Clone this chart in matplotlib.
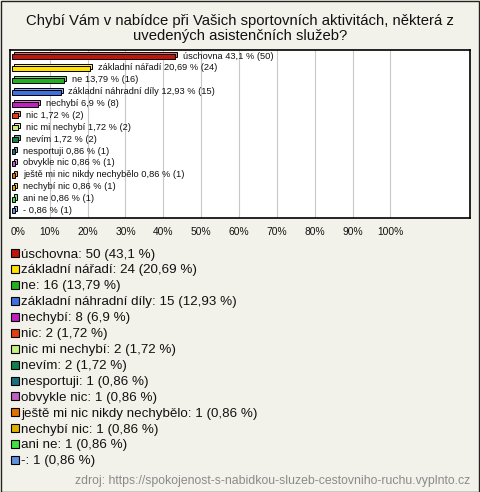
import matplotlib
matplotlib.use("Agg")
import matplotlib.pyplot as plt
from matplotlib.patches import Rectangle
import matplotlib.colors as mcolors

categories = ["úschovna", "základní nářadí", "ne", "základní náhradní díly", "nechybí",
              "nic", "nic mi nechybí", "nevím", "nesportuji", "obvykle nic",
              "ještě mi nic nikdy nechybělo", "nechybí nic", "ani ne", "-"]
counts = [50, 24, 16, 15, 8, 2, 2, 2, 1, 1, 1, 1, 1, 1]
percents = [43.1, 20.69, 13.79, 12.93, 6.9, 1.72, 1.72, 1.72, 0.86, 0.86, 0.86, 0.86, 0.86, 0.86]
pct_labels = ["43,1", "20,69", "13,79", "12,93", "6,9", "1,72", "1,72", "1,72",
              "0,86", "0,86", "0,86", "0,86", "0,86", "0,86"]
colors = ["#C0140C", "#FFE000", "#20B020", "#4070E0", "#C020C0", "#E04010", "#C8F080",
          "#108050", "#1A7080", "#C060C0", "#E07000", "#E0B000", "#40E040", "#6090E0"]
tick_values = [0, 10, 20, 30, 40, 50, 60, 70, 80, 90, 100]
tick_labels = ["0%", "10%", "20%", "30%", "40%", "50%", "60%", "70%", "80%", "90%", "100%"]

title = "Chybí Vám v nabídce při Vašich sportovních aktivitách, některá z\nuvedených asistenčních služeb?"
source = "zdroj: https://spokojenost-s-nabidkou-sluzeb-cestovniho-ruchu.vyplnto.cz"

plt.rcParams['font.family'] = ['Liberation Sans', 'DejaVu Sans']
BG = "#F3F2EA"
W, H = 480, 492
fig = plt.figure(figsize=(W / 100, H / 100), dpi=100, facecolor=BG)

# outer border
fig.patches.append(Rectangle((0.5 / W, 0.5 / H), 1 - 1.5 / W, 1 - 1.5 / H, transform=fig.transFigure,
                             fill=False, edgecolor="#222222", linewidth=1.0))

fig.text(0.5, 1 - 28.5 / H, title, ha="center", va="center", fontsize=10.7, color="#111111",
         linespacing=1.1)

ax = fig.add_axes([10 / W, 1 - 218 / H, 460 / W, 168 / H])
ax.set_facecolor("white")
ax.set_xlim(-0.5, 121)
ax.set_ylim(13.6, -0.55)
for s in ax.spines.values():
    s.set_linewidth(1.2)
    s.set_color("black")
ax.set_xticks([])
ax.set_yticks([])
for t in tick_values[1:]:
    ax.axvline(t, color="#C8C8C8", linewidth=0.8, zorder=0)

px_x = 1 / 3.79   # percent per pixel
px_y = 1 / 11.86  # rows per pixel
bh = 5 * px_y
for i, (p, c) in enumerate(zip(percents, colors)):
    light = tuple(min(1, v * 0.6 + 0.4) for v in mcolors.to_rgb(c))
    ax.add_patch(Rectangle((0 + 2 * px_x, i - bh / 2 - 2 * px_y), p, bh, facecolor=light,
                           edgecolor="black", linewidth=0.7, zorder=2))
    ax.add_patch(Rectangle((0, i - bh / 2), p, bh, facecolor=c,
                           edgecolor="black", linewidth=0.7, zorder=3))
    ax.annotate(f"{categories[i]} {pct_labels[i]} % ({counts[i]})", xy=(p, i - 0.5 * px_y),
                xytext=(5.5, 0), textcoords="offset points", ha="left", va="center",
                fontsize=6.7, color="#111111", zorder=4)

for t, lab in zip(tick_values, tick_labels):
    dx = 6.5 * px_x if t == 0 else 0
    ax.text(t + dx, -14 / 168, lab, transform=ax.get_xaxis_transform(), ha="center",
            va="center", fontsize=7.4, color="#111111")

# legend
y0 = 253.3
dy = 15.9
for i, c in enumerate(colors):
    yc = y0 + i * dy
    fig.patches.append(Rectangle((10.5 / W, 1 - (yc + 4) / H), 8 / W, 8 / H, transform=fig.transFigure,
                                 facecolor=c, edgecolor="black", linewidth=0.8))
    fig.text(21 / W, 1 - (yc + 4.3) / H, f"{categories[i]}: {counts[i]} ({pct_labels[i]} %)",
             ha="left", va="baseline", fontsize=9.6, color="#111111")

fig.text(470 / W, 1 - 481 / H, source, ha="right", va="center", fontsize=8.8, color="#8A8A8A")

fig.savefig("out.png", dpi=100, facecolor=BG)
